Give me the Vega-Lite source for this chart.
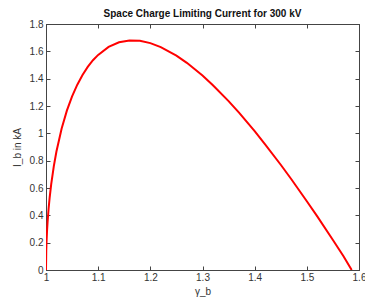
{
  "$schema": "https://vega.github.io/schema/vega-lite/v6.json",
  "width": 313,
  "height": 246,
  "autosize": {"type": "none"},
  "padding": {"left": 46, "top": 24, "right": 6, "bottom": 32},
  "background": "white",
  "title": {
    "text": "Space Charge Limiting Current for 300 kV",
    "font": "Liberation Sans",
    "fontSize": 10,
    "fontWeight": "bold",
    "color": "#111111",
    "offset": 0
  },
  "config": {
    "view": {"stroke": "#444444", "strokeWidth": 1},
    "axis": {
      "labelFont": "Liberation Sans",
      "labelFontSize": 10,
      "labelColor": "#333333",
      "titleFont": "Liberation Sans",
      "titleFontSize": 10,
      "titleFontWeight": "normal",
      "titleColor": "#333333",
      "domainColor": "#444444",
      "tickColor": "#444444",
      "tickSize": -4,
      "grid": false
    }
  },
  "data": {
    "values": [
      {"gamma": 1.0, "current": 0},
      {"gamma": 1.0005, "current": 0.144},
      {"gamma": 1.001, "current": 0.203},
      {"gamma": 1.002, "current": 0.287},
      {"gamma": 1.003, "current": 0.350},
      {"gamma": 1.005, "current": 0.450},
      {"gamma": 1.007, "current": 0.530},
      {"gamma": 1.01, "current": 0.628},
      {"gamma": 1.015, "current": 0.760},
      {"gamma": 1.02, "current": 0.867},
      {"gamma": 1.03, "current": 1.036},
      {"gamma": 1.04, "current": 1.166},
      {"gamma": 1.05, "current": 1.271},
      {"gamma": 1.06, "current": 1.356},
      {"gamma": 1.07, "current": 1.427},
      {"gamma": 1.08, "current": 1.486},
      {"gamma": 1.09, "current": 1.535},
      {"gamma": 1.10, "current": 1.574},
      {"gamma": 1.12, "current": 1.632},
      {"gamma": 1.14, "current": 1.666},
      {"gamma": 1.16, "current": 1.679},
      {"gamma": 1.18, "current": 1.677},
      {"gamma": 1.20, "current": 1.660},
      {"gamma": 1.22, "current": 1.631},
      {"gamma": 1.25, "current": 1.569},
      {"gamma": 1.27, "current": 1.516},
      {"gamma": 1.30, "current": 1.423},
      {"gamma": 1.32, "current": 1.352},
      {"gamma": 1.35, "current": 1.236},
      {"gamma": 1.37, "current": 1.151},
      {"gamma": 1.40, "current": 1.016},
      {"gamma": 1.42, "current": 0.920},
      {"gamma": 1.45, "current": 0.770},
      {"gamma": 1.47, "current": 0.666},
      {"gamma": 1.50, "current": 0.503},
      {"gamma": 1.52, "current": 0.392},
      {"gamma": 1.55, "current": 0.219},
      {"gamma": 1.57, "current": 0.102},
      {"gamma": 1.586, "current": 0}
    ]
  },
  "layer": [
    {
      "mark": {"type": "line", "color": "#ff0000", "strokeWidth": 2, "clip": true},
      "encoding": {
        "x": {
          "field": "gamma", "type": "quantitative",
          "scale": {"domain": [1, 1.6], "nice": false, "zero": false},
          "axis": {"title": "γ_b", "values": [1, 1.1, 1.2, 1.3, 1.4, 1.5, 1.6], "format": "~g", "labelPadding": 6, "titlePadding": 4, "labelFlush": false}
        },
        "y": {
          "field": "current", "type": "quantitative",
          "scale": {"domain": [0, 1.8], "nice": false},
          "axis": {"title": "I_b in kA", "values": [0, 0.2, 0.4, 0.6, 0.8, 1, 1.2, 1.4, 1.6, 1.8], "format": "~g", "labelPadding": 7, "titlePadding": 7, "labelFlush": false}
        }
      }
    },
    {
      "mark": {"type": "point", "opacity": 0},
      "encoding": {
        "x": {
          "field": "gamma", "type": "quantitative",
          "scale": {"domain": [1, 1.6], "nice": false, "zero": false},
          "axis": {"orient": "top", "labels": false, "title": null, "values": [1, 1.1, 1.2, 1.3, 1.4, 1.5, 1.6]}
        },
        "y": {
          "field": "current", "type": "quantitative",
          "scale": {"domain": [0, 1.8], "nice": false},
          "axis": {"orient": "right", "labels": false, "title": null, "values": [0, 0.2, 0.4, 0.6, 0.8, 1, 1.2, 1.4, 1.6, 1.8]}
        }
      }
    }
  ],
  "resolve": {"axis": {"x": "independent", "y": "independent"}}
}
